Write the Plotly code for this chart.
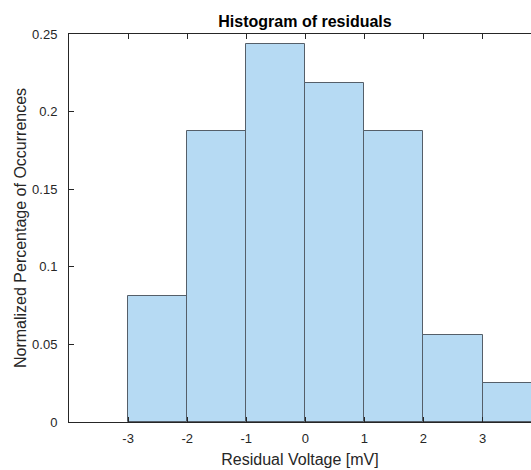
import plotly.graph_objects as go

bin_edges = [-3, -2, -1, 0, 1, 2, 3, 4]
frequencies = [0.08125, 0.1875, 0.24375, 0.21875, 0.1875, 0.05625, 0.025]
x_ticks = [-3, -2, -1, 0, 1, 2, 3]
y_ticks = [0, 0.05, 0.1, 0.15, 0.2, 0.25]
y_tick_labels = ["0", "0.05", "0.1", "0.15", "0.2", "0.25"]

centers = [(a + b) / 2 for a, b in zip(bin_edges[:-1], bin_edges[1:])]
widths = [b - a for a, b in zip(bin_edges[:-1], bin_edges[1:])]

font_family = "Liberation Sans, Arial, Helvetica, sans-serif"
axis_color = "#262626"

fig = go.Figure(
    go.Bar(
        x=centers,
        y=frequencies,
        width=widths,
        marker=dict(color="#b6daf3", line=dict(color="#555f69", width=1)),
        hoverinfo="x+y",
    )
)

fig.update_layout(
    width=531,
    height=470,
    margin=dict(l=69, r=0, t=34, b=48, pad=0),
    paper_bgcolor="white",
    plot_bgcolor="white",
    showlegend=False,
    bargap=0,
    title=dict(
        text="<b>Histogram of residuals</b>",
        x=305 / 531,
        xref="container",
        xanchor="center",
        y=1 - 21 / 470,
        yanchor="middle",
        font=dict(family=font_family, size=16, color="#000000"),
    ),
    font=dict(family=font_family, size=13, color=axis_color),
)

fig.update_xaxes(
    range=[-4, 3.82],
    tickvals=x_ticks,
    ticktext=[str(v) for v in x_ticks],
    ticks="inside",
    ticklen=5,
    tickcolor=axis_color,
    showline=True,
    linecolor=axis_color,
    linewidth=1,
    mirror="ticks",
    showgrid=False,
    zeroline=False,
    ticklabelstandoff=4,
    tickfont=dict(family=font_family, size=13, color=axis_color),
    title=dict(text="Residual Voltage [mV]", standoff=9,
               font=dict(family=font_family, size=16, color=axis_color)),
)

fig.update_yaxes(
    range=[0, 0.25],
    tickvals=y_ticks,
    ticktext=y_tick_labels,
    ticks="inside",
    ticklen=5,
    tickcolor=axis_color,
    showline=True,
    linecolor=axis_color,
    linewidth=1,
    mirror=False,
    showgrid=False,
    zeroline=False,
    ticklabelstandoff=8,
    tickfont=dict(family=font_family, size=13, color=axis_color),
    title=dict(text="Normalized Percentage of Occurrences", standoff=1,
               font=dict(family=font_family, size=16, color=axis_color)),
)

fig.write_html("out.html")
